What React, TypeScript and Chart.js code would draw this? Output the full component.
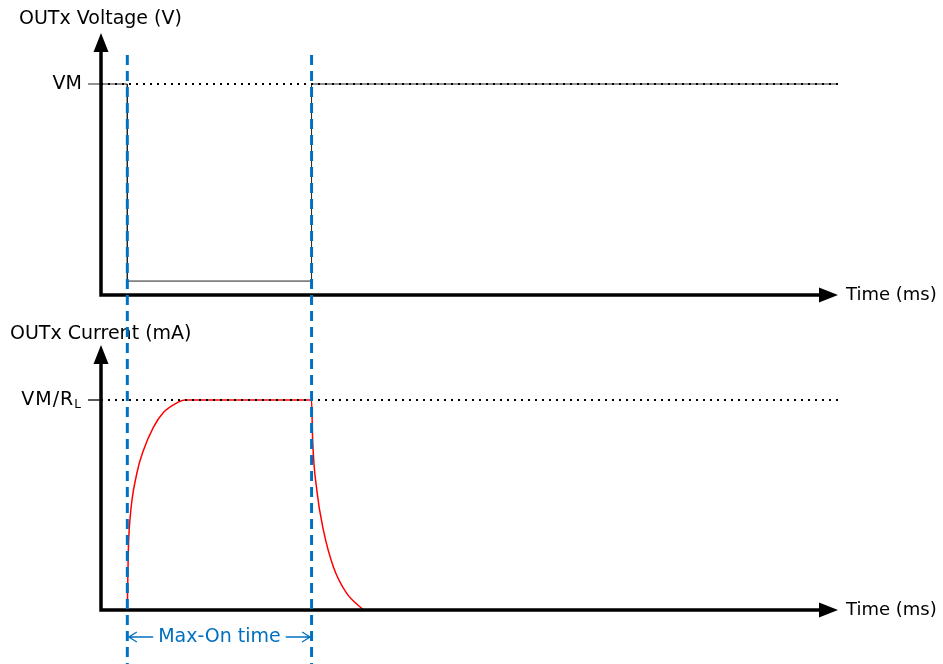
import React, { useEffect, useRef } from "react";
import { Chart, registerables } from "chart.js";

Chart.register(...registerables);

// ---- data ----
const timeMax = 28; // ms (arbitrary units)
const pulseEdges = [1, 8]; // Max-On window start / end
const voltageTimes = [0, 1, 1, 8, 8, 28];
const voltageValues = [1, 1, 0.066, 0.066, 1, 1]; // fraction of VM
const currentTimes = [1.0, 1.02, 1.04, 1.1, 1.36, 1.61, 1.99, 2.37, 2.88, 3.19, 8.0, 8.04, 8.2, 8.45, 8.83, 9.33, 9.97];
const currentValues = [0, 0.16, 0.29, 0.43, 0.65, 0.76, 0.87, 0.94, 0.986, 1.0, 1.0, 0.81, 0.57, 0.38, 0.205, 0.08, 0];
const levelTimes = [0, 28];
const levelValues = [1, 1];
const voltageTickLabel = "VM";
const currentTickLabel = ["VM/R", "L"];
const voltageTitle = "OUTx Voltage (V)";
const currentTitle = "OUTx Current (mA)";
const timeTitle = "Time (ms)";
const windowLabel = "Max-On time";

const toPts = (xs: number[], ys: number[]) => xs.map((x, i) => ({ x, y: ys[i] }));

// ---- layout (pixels) ----
const W = 943;
const H = 664;
const AREA = { left: 101, right: 838, top: 33, bottom: 610 };
const V0 = 295, V1 = 84; // voltage panel: pixel of 0 and VM
const I0 = 610, I1 = 400; // current panel: pixel of 0 and VM/RL
const vPer = V0 - V1;
const iPer = I0 - I1;
const yVMin = -(AREA.bottom - V0) / vPer;
const yVMax = (V0 - AREA.top) / vPer;
const yIMin = -(AREA.bottom - I0) / iPer;
const yIMax = (I0 - AREA.top) / iPer;
const vAxisTip = yVMax;
const iAxisTip = (I0 - 345) / iPer;

const FONT = '"DejaVu Sans", sans-serif';
const BLUE = "#0070C0";

const overlay = {
  id: "diagramOverlay",
  afterDraw(chart: any) {
    const ctx: CanvasRenderingContext2D = chart.ctx;
    const xs = chart.scales.x;
    const yV = chart.scales.yV;
    const yI = chart.scales.yI;
    const x0 = xs.getPixelForValue(0);
    const xEnd = xs.getPixelForValue(timeMax);
    ctx.save();

    const panels = [
      { s: yV, tip: vAxisTip, tickColor: "#555" },
      { s: yI, tip: iAxisTip, tickColor: "#000" },
    ];
    for (const p of panels) {
      const y0 = p.s.getPixelForValue(0);
      const yTip = p.s.getPixelForValue(p.tip);
      const yL = p.s.getPixelForValue(1);
      // tick
      ctx.strokeStyle = p.tickColor;
      ctx.lineWidth = 1.3;
      ctx.setLineDash([]);
      ctx.beginPath();
      ctx.moveTo(x0 - 13, yL);
      ctx.lineTo(x0, yL);
      ctx.stroke();
      // axes
      ctx.strokeStyle = "#000";
      ctx.lineWidth = 3.5;
      ctx.lineJoin = "miter";
      ctx.beginPath();
      ctx.moveTo(x0, yTip + 16);
      ctx.lineTo(x0, y0);
      ctx.lineTo(xEnd - 16, y0);
      ctx.stroke();
      ctx.fillStyle = "#000";
      ctx.beginPath();
      ctx.moveTo(x0, yTip);
      ctx.lineTo(x0 - 7.5, yTip + 19);
      ctx.lineTo(x0 + 7.5, yTip + 19);
      ctx.closePath();
      ctx.fill();
      ctx.beginPath();
      ctx.moveTo(xEnd, y0);
      ctx.lineTo(xEnd - 19, y0 - 7.5);
      ctx.lineTo(xEnd - 19, y0 + 7.5);
      ctx.closePath();
      ctx.fill();
      // time label
      ctx.font = `18px ${FONT}`;
      ctx.textBaseline = "middle";
      ctx.textAlign = "left";
      ctx.fillText(timeTitle, xEnd + 8, y0);
    }

    // level labels
    ctx.fillStyle = "#000";
    ctx.font = `19px ${FONT}`;
    ctx.textBaseline = "middle";
    ctx.textAlign = "right";
    ctx.fillText(voltageTickLabel, 82, yV.getPixelForValue(1));
    const yIL = yI.getPixelForValue(1);
    ctx.font = `12px ${FONT}`;
    const subW = ctx.measureText(currentTickLabel[1]).width;
    ctx.textAlign = "left";
    ctx.fillText(currentTickLabel[1], 81 - subW, yIL + 5);
    ctx.font = `19px ${FONT}`;
    ctx.textAlign = "right";
    (ctx as any).letterSpacing = "1px";
    ctx.fillText(currentTickLabel[0], 81 - subW, yIL);
    (ctx as any).letterSpacing = "0px";

    // titles
    ctx.textAlign = "left";
    ctx.fillText(voltageTitle, 19, 19);
    ctx.fillText(currentTitle, 10, 334);

    // blue dashed window lines
    ctx.strokeStyle = BLUE;
    ctx.lineWidth = 3;
    ctx.setLineDash([10, 6]);
    for (const t of pulseEdges) {
      const x = xs.getPixelForValue(t);
      ctx.beginPath();
      ctx.moveTo(x, 55);
      ctx.lineTo(x, H);
      ctx.stroke();
    }
    ctx.setLineDash([]);

    // Max-On annotation
    const xa = xs.getPixelForValue(pulseEdges[0]) + 1.5;
    const xb = xs.getPixelForValue(pulseEdges[1]) - 1.5;
    const ya = 637;
    const cx = (xa + xb) / 2;
    ctx.font = `19px ${FONT}`;
    ctx.fillStyle = BLUE;
    ctx.textAlign = "center";
    ctx.textBaseline = "middle";
    ctx.fillText(windowLabel, cx, ya);
    const tw = ctx.measureText(windowLabel).width;
    ctx.lineWidth = 1.3;
    ctx.beginPath();
    ctx.moveTo(xa, ya);
    ctx.lineTo(cx - tw / 2 - 5, ya);
    ctx.moveTo(xa + 8, ya - 5);
    ctx.lineTo(xa, ya);
    ctx.lineTo(xa + 8, ya + 5);
    ctx.moveTo(xb, ya);
    ctx.lineTo(cx + tw / 2 + 5, ya);
    ctx.moveTo(xb - 8, ya - 5);
    ctx.lineTo(xb, ya);
    ctx.lineTo(xb - 8, ya + 5);
    ctx.stroke();

    ctx.restore();
  },
};

export default function App() {
  const ref = useRef<HTMLCanvasElement | null>(null);
  useEffect(() => {
    if (!ref.current) return;
    const chart = new Chart(ref.current, {
      type: "scatter",
      data: {
        datasets: [
          {
            label: "VM level",
            data: toPts(levelTimes, levelValues),
            yAxisID: "yV",
            showLine: true,
            borderColor: "#000",
            borderWidth: 2,
            borderDash: [2, 5],
            pointRadius: 0,
            order: 0,
          },
          {
            label: "VM/RL level",
            data: toPts(levelTimes, levelValues),
            yAxisID: "yI",
            showLine: true,
            borderColor: "#000",
            borderWidth: 2,
            borderDash: [2, 5],
            pointRadius: 0,
            order: 0,
          },
          {
            label: "OUTx Voltage",
            data: toPts(voltageTimes, voltageValues),
            yAxisID: "yV",
            showLine: true,
            borderColor: "#222",
            borderWidth: 1,
            pointRadius: 0,
            order: 1,
          },
          {
            label: "OUTx Current",
            data: toPts(currentTimes, currentValues),
            yAxisID: "yI",
            showLine: true,
            borderColor: "#ff0000",
            borderWidth: 1.5,
            cubicInterpolationMode: "monotone",
            pointRadius: 0,
            order: 1,
          },
        ],
      },
      options: {
        responsive: false,
        animation: false,
        events: [],
        layout: {
          padding: {
            left: AREA.left,
            right: W - AREA.right,
            top: AREA.top,
            bottom: H - AREA.bottom,
          },
        },
        plugins: { legend: { display: false }, tooltip: { enabled: false } },
        scales: {
          x: { type: "linear", min: 0, max: timeMax, display: false },
          yV: { type: "linear", min: yVMin, max: yVMax, display: false },
          yI: { type: "linear", min: yIMin, max: yIMax, display: false },
        },
      },
      plugins: [overlay],
    } as any);
    return () => chart.destroy();
  }, []);
  return (
    <div style={{ position: "absolute", left: 0, top: 0, width: W, height: H, background: "#fff" }}>
      <canvas ref={ref} width={W} height={H} style={{ width: W, height: H, display: "block" }} />
    </div>
  );
}
